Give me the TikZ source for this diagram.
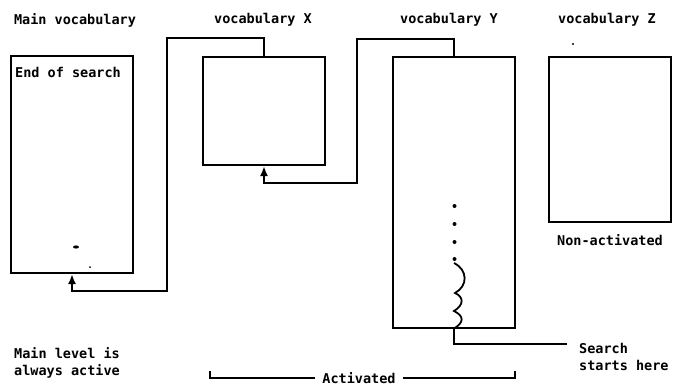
\documentclass[tikz,border=0pt]{standalone}
\usepackage{fontspec}
\setmonofont{DejaVu Sans Mono}
\usetikzlibrary{arrows.meta}
\begin{document}
\begin{tikzpicture}[x=1pt,y=-1pt,
  txt/.style={font=\ttfamily\bfseries\fontsize{13.5}{16}\selectfont, inner sep=0pt},
  vocab/.style={draw, line width=2pt, minimum width=#1, inner sep=0pt},
  link/.style={line width=2pt},
  arr/.style={link, -{Latex[length=10pt,width=8pt]}},
  bracket/.style={line width=1.6pt}]
\useasboundingbox (0,0) rectangle (677,388);

% titles
\node[txt] (tM) at (75,20) {Main vocabulary};
\node[txt] (tX) at (263,20) {vocabulary X};
\node[txt] (tY) at (449,20) {vocabulary Y};
\node[txt] (tZ) at (607,20) {vocabulary Z};

% vocabularies
\node[vocab=122pt, minimum height=217pt] (M) at (72,164.5) {};
\node[vocab=122pt, minimum height=108pt] (X) at (264,111) {};
\node[vocab=122pt, minimum height=271pt] (Y) at (454,192.5) {};
\node[vocab=122pt, minimum height=165pt] (Z) at (610,139.5) {};

\node[txt, anchor=north west] (end) at ([shift={(5,12)}]M.north west) {End of search};
\node[txt] (non) at (610,240) {Non-activated};

% links between vocabularies
\draw[arr] (X.north) -- (X.north |- 0,38) -- (167,38) -- (167,291)
  -- (M.south |- 0,291) -- (M.south);
\draw[arr] (Y.north) -- (Y.north |- 0,39) -- (357,39) -- (357,183)
  -- (X.south |- 0,183) -- (X.south);

% search path inside vocabulary Y
\foreach \yy in {206,224,242,259}
  \fill (454.5,\yy) circle (2pt);
\draw[line width=1.8pt] (454,263) .. controls (468,270) and (468,286) .. (455,293)
  .. controls (464,297) and (464,305) .. (454,311)
  .. controls (464,316) and (464,322) .. (455,328);

% start of search
\coordinate (sEnd) at (567,344);
\node[txt, anchor=west, align=left, font=\ttfamily\bfseries\fontsize{13.5}{16.5}\selectfont] (search) at (579,357) {Search\\starts here};
\draw[link] (Y.south) -- (Y.south |- sEnd) -- (sEnd);

% activated span
\node[txt] (act) at (359,378) {Activated};
\draw[bracket] (210,371) -- (210,378) -- ([xshift=-7pt]act.west);
\draw[bracket] ([xshift=7pt]act.east) -- (515,378) -- (515,371);

\node[txt, anchor=west, align=left, font=\ttfamily\bfseries\fontsize{13.5}{16.5}\selectfont] (main) at (14,363) {Main level is\\always active};

% small marks
\fill (76,247) ellipse (3pt and 1.6pt);
\fill (90,267) circle (1pt);
\fill (573,44) circle (1.2pt);
\end{tikzpicture}
\end{document}
